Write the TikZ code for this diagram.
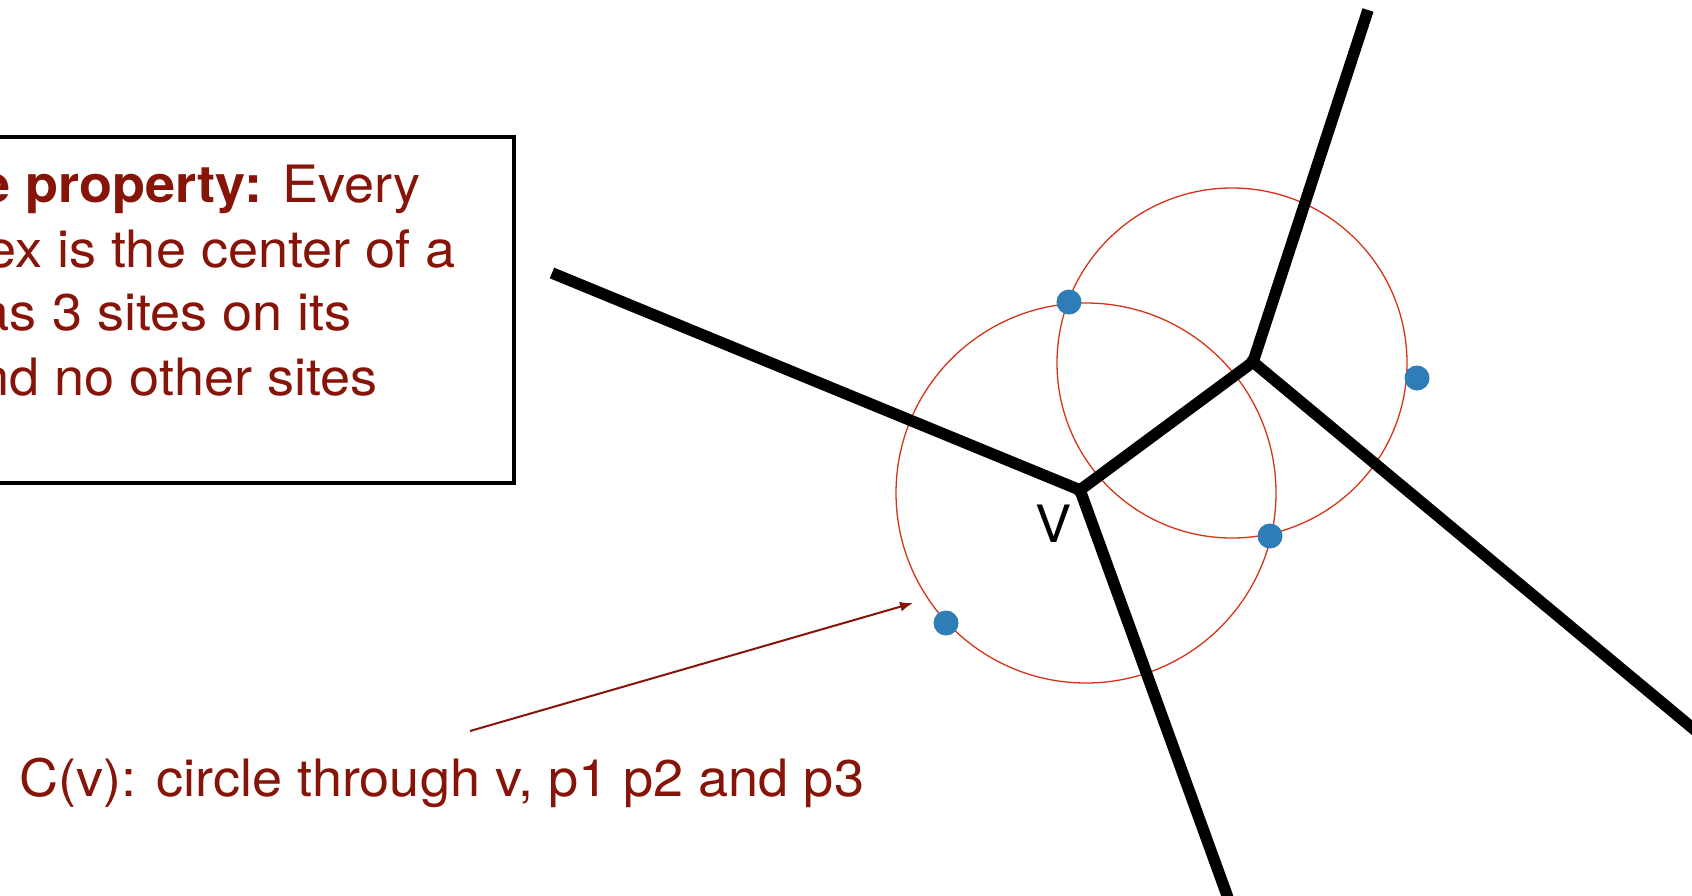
\documentclass[tikz,border=0pt]{standalone}
\usepackage{fontspec}
\setmainfont[FakeStretch=1.05]{TeX Gyre Heros}
\usetikzlibrary{arrows.meta}
\definecolor{txtred}{RGB}{134,20,8}
\definecolor{circred}{RGB}{214,52,24}
\definecolor{siteblue}{RGB}{46,125,182}
\begin{document}
\begin{tikzpicture}[x=1pt,y=-1pt,
  edge/.style={line width=11.5pt, line cap=butt, line join=round},
  ring/.style={draw=circred, line width=1.3pt},
  site/.style={circle, fill=siteblue, minimum size=25pt, inner sep=0pt},
  txt/.style={text=txtred, font=\fontsize{51.5}{64}\selectfont, inner sep=0pt},
]
\clip (0,0) rectangle (1692,895);
\fill[white] (0,0) rectangle (1692,895);
% Voronoi vertices and edge ends
\coordinate (v) at (1080,490);
\coordinate (w) at (1253,362);
\coordinate (eL) at (552,273);
\coordinate (eT) at (1368,10);
\coordinate (eB) at (1240,931);
\coordinate (eR) at (1720,751);
% empty circles
\draw[ring] (1086,493) circle[radius=190];
\draw[ring] (1232,363) circle[radius=175];
% Voronoi edges
\draw[edge] (eL) -- (v) -- (w) -- (eT);
\draw[edge] (v) -- (eB);
\draw[edge] (w) -- (eR);
\fill (v) circle[radius=7];
\fill (w) circle[radius=7];
% sites
\node[site] (p1) at (1069,302) {};
\node[site] (p2) at (1270,536) {};
\node[site] (p3) at (1417,378) {};
\node[site] (p4) at (946,623) {};
% vertex label
\node[font=\fontsize{51.5}{64}\selectfont, inner sep=0pt] (vl) at (1054,524) {V};
% text box
\node[draw, line width=4.5pt, minimum width=550pt, minimum height=346pt, anchor=north east, inner sep=0pt, outer sep=0pt] (box) at (514,137) {};
\node[txt, anchor=base east] (l1) at (421,202) {\textbf{e property:} Every};
\node[txt, anchor=base east] (l2) at (456,267) {ex is the center of a};
\node[txt, anchor=base east] (l3) at (352,330) {as 3 sites on its};
\node[txt, anchor=base east] (l4) at (378,395) {nd no other sites};
% caption and arrow
\node[txt, anchor=base west] (cap) at (19,796) {C(v): circle through v, p1 p2 and p3};
\coordinate (as) at (470,731);
\coordinate (at) at (913,603);
\draw[draw=txtred, line width=2pt, -{Latex[length=13pt,width=10pt]}] (as) -- (at);
\end{tikzpicture}
\end{document}
